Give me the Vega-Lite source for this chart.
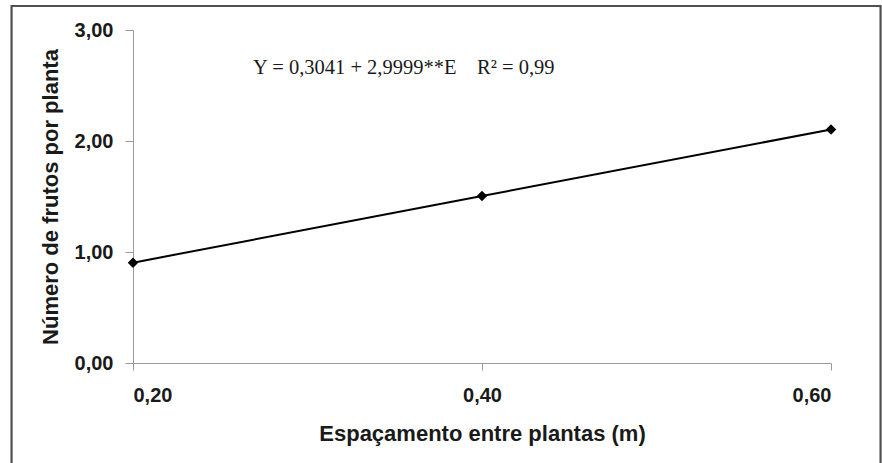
{
  "$schema": "https://vega.github.io/schema/vega-lite/v6.json",
  "autosize": "none",
  "width": 698,
  "height": 333,
  "padding": {"left": 133, "top": 30, "right": 51, "bottom": 100},
  "background": "white",
  "config": {
    "view": {"stroke": null},
    "font": "Liberation Sans"
  },
  "datasets": {
    "pts": [
      {"E": 0.2, "Y": 0.904},
      {"E": 0.4, "Y": 1.504},
      {"E": 0.6, "Y": 2.104}
    ],
    "frame": [
      {"x1": 0.1304, "x2": 0.6284, "y1": 3.216, "y2": -1.2}
    ],
    "eq": [
      {"E": 0.2688, "Y": 2.66, "label": "Y = 0,3041 + 2,9999**E\u00a0\u00a0\u00a0\u00a0R² = 0,99"}
    ]
  },
  "layer": [
    {
      "data": {"name": "frame"},
      "mark": {"type": "rect", "fill": null, "stroke": "#505050", "strokeWidth": 2.2, "clip": false},
      "encoding": {
        "x": {"field": "x1", "type": "quantitative", "scale": {"domain": [0.2, 0.6]}},
        "x2": {"field": "x2"},
        "y": {"field": "y1", "type": "quantitative", "scale": {"domain": [0, 3]}},
        "y2": {"field": "y2"}
      }
    },
    {
      "data": {"name": "pts"},
      "mark": {"type": "line", "color": "black", "strokeWidth": 2},
      "encoding": {
        "x": {
          "field": "E", "type": "quantitative",
          "scale": {"domain": [0.2, 0.6], "nice": false, "zero": false},
          "axis": {
            "title": "Espaçamento entre plantas (m)",
            "values": [0.2, 0.4, 0.6],
            "labelExpr": "replace(format(datum.value, '.2f'), '.', ',')",
            "grid": false,
            "domainColor": "#9a9a9a",
            "tickColor": "#9a9a9a",
            "tickSize": 7,
            "labelFont": "Liberation Sans",
            "labelFontWeight": "bold",
            "labelFontSize": 20,
            "labelColor": "#1a1a1a",
            "labelPadding": 15,
            "titleFont": "Liberation Sans",
            "titleFontWeight": "bold",
            "titleFontSize": 22,
            "titleColor": "#1a1a1a",
            "titlePadding": 18
          }
        },
        "y": {
          "field": "Y", "type": "quantitative",
          "scale": {"domain": [0, 3], "nice": false},
          "axis": {
            "title": "Número de frutos por planta",
            "values": [0, 1, 2, 3],
            "labelExpr": "replace(format(datum.value, '.2f'), '.', ',')",
            "grid": false,
            "domainColor": "#9a9a9a",
            "tickColor": "#9a9a9a",
            "tickSize": 8,
            "labelFont": "Liberation Sans",
            "labelFontWeight": "bold",
            "labelFontSize": 20,
            "labelColor": "#1a1a1a",
            "labelPadding": 12,
            "titleFont": "Liberation Sans",
            "titleFontWeight": "bold",
            "titleFontSize": 22,
            "titleColor": "#1a1a1a",
            "titlePadding": 12
          }
        }
      }
    },
    {
      "data": {"name": "pts"},
      "mark": {"type": "point", "shape": "diamond", "filled": true, "color": "black", "size": 110, "opacity": 1},
      "encoding": {
        "x": {"field": "E", "type": "quantitative"},
        "y": {"field": "Y", "type": "quantitative"}
      }
    },
    {
      "data": {"name": "eq"},
      "mark": {"type": "text", "align": "left", "baseline": "middle", "font": "Liberation Serif", "fontSize": 20.5, "color": "#1a1a1a"},
      "encoding": {
        "x": {"field": "E", "type": "quantitative"},
        "y": {"field": "Y", "type": "quantitative"},
        "text": {"field": "label"}
      }
    }
  ]
}
